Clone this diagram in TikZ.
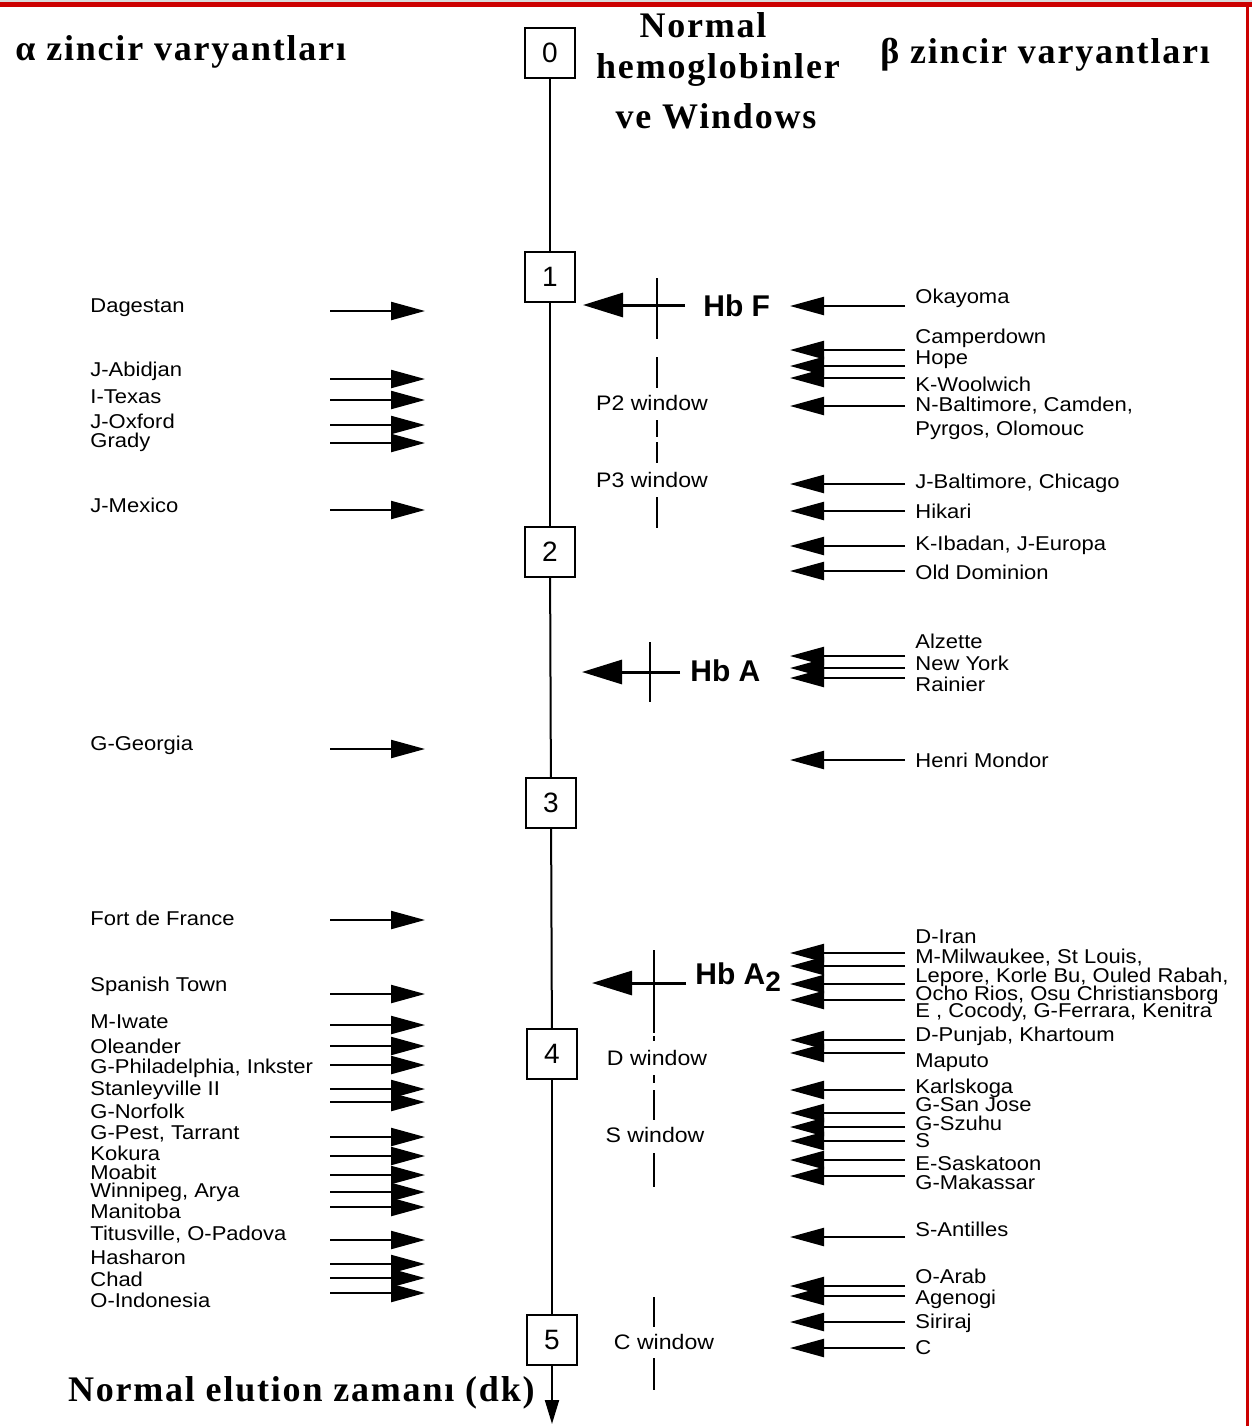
\documentclass[tikz,border=0pt]{standalone}
\usepackage{fontspec}
\setmainfont{Liberation Serif}
\setsansfont{Liberation Sans}
\newfontfamily\lblfont[FakeStretch=1.1]{Liberation Sans}
\newfontfamily\hdrfont[LetterSpace=5]{Liberation Serif}
\usetikzlibrary{arrows.meta}
\tikzset{
  lbl/.style={font=\lblfont\fontsize{10}{10}\selectfont, inner sep=0pt, anchor=west},
  winlbl/.style={font=\lblfont\fontsize{10.5}{10.5}\selectfont, inner sep=0pt},
  hdr/.style={font=\hdrfont\bfseries\fontsize{18}{18}\selectfont, inner sep=0pt},
  hblbl/.style={font=\sffamily\bfseries\fontsize{15}{15}\selectfont, inner sep=0pt, anchor=west},
  numbox/.style={draw, line width=1pt, minimum size=25pt, inner sep=0pt, font=\sffamily\fontsize{14}{14}\selectfont},
  rarrow/.style={line width=1.1pt, -{Triangle[length=17pt,width=9pt]}},
  larrow/.style={line width=1.1pt, -{Triangle[length=17pt,width=9pt]}},
  marker/.style={line width=1.5pt, -{Triangle[length=20pt,width=12pt]}},
  crossbar/.style={line width=1.3pt},
  axisline/.style={line width=1pt},
}
\begin{document}
\begin{tikzpicture}[x=0.5pt,y=-0.5pt]
\useasboundingbox (0,0) rectangle (1252,1426);
% frame
\fill[gray!30] (0,0) rectangle (1252,2);
\fill[red!80!black] (0,2) rectangle (1252,7);
\fill[red!80!black] (1246,2) rectangle (1249,1426);

% headers
\node[hdr, anchor=west] (hA) at (15,52) {α zincir varyantları};
\node[hdr, anchor=west] (hB) at (880,55) {β zincir varyantları};
\node[hdr] (hN1) at (703,25) {Normal};
\node[hdr] (hN2) at (718,70) {hemoglobinler};
\node[hdr] (hN3) at (716,116) {ve Windows};
\node[hdr, anchor=east] (hT) at (535,1393) {Normal elution zamanı (dk)};

% axis boxes
\node[numbox] (b0) at (550,53) {0};
\node[numbox] (b1) at (550,277) {1};
\node[numbox] (b2) at (550,552) {2};
\node[numbox] (b3) at (551,803) {3};
\node[numbox] (b4) at (552,1054) {4};
\node[numbox] (b5) at (552,1340) {5};
\coordinate (axend) at (552,1424);
\draw[axisline] (b0) -- (b1);
\draw[axisline] (b1) -- (b2);
\draw[axisline] (b2) -- (b3);
\draw[axisline] (b3) -- (b4);
\draw[axisline] (b4) -- (b5);
\draw[axisline, -{Triangle[length=12pt,width=7pt]}] (b5) -- (axend);

% Hb F marker
\coordinate (fT) at (685,305); \coordinate (fH) at (583,305);
\draw[marker] (fT) -- (fH);
\coordinate (fv1) at (657,278); \coordinate (fv2) at (657,339);
\draw[crossbar] (fv1) -- (fv2);
\node[hblbl] (hbF) at (703,306) {Hb F};
\foreach \a/\b [count=\i] in {357/388, 420/437, 442/463, 497/528}{
  \coordinate (pw\i a) at (657,\a); \coordinate (pw\i b) at (657,\b);
  \draw[crossbar] (pw\i a) -- (pw\i b);
}
\node[winlbl] (wP2) at (652,403) {P2 window};
\node[winlbl] (wP3) at (652,480) {P3 window};

% Hb A marker
\coordinate (aT) at (680,672); \coordinate (aH) at (582,672);
\draw[marker] (aT) -- (aH);
\coordinate (av1) at (650,642); \coordinate (av2) at (650,702);
\draw[crossbar] (av1) -- (av2);
\node[hblbl] (hbA) at (690,671) {Hb A};

% Hb A2 marker
\coordinate (a2T) at (686,983); \coordinate (a2H) at (592,983);
\draw[marker] (a2T) -- (a2H);
\coordinate (a2v1) at (654,950); \coordinate (a2v2) at (654,1033);
\draw[crossbar] (a2v1) -- (a2v2);
\node[hblbl] (hbA2) at (695,977) {Hb A\raisebox{-0.45ex}{\fontsize{14}{14}\selectfont 2}};
\foreach \a/\b [count=\i] in {1036/1041, 1075/1083, 1090/1120, 1153/1187, 1297/1327, 1358/1390}{
  \coordinate (dw\i a) at (654,\a); \coordinate (dw\i b) at (654,\b);
  \draw[crossbar] (dw\i a) -- (dw\i b);
}
\node[winlbl] (wD) at (657,1058) {D window};
\node[winlbl] (wS) at (655,1135) {S window};
\node[winlbl] (wC) at (664,1342) {C window};

% right (beta) labels
\foreach \ty/\txt in {298/Okayoma, 338/Camperdown, 360/Hope, 384/K-Woolwich,
  406/{N-Baltimore, Camden,}, 430/{Pyrgos, Olomouc}, 483/{J-Baltimore, Chicago},
  511/Hikari, 545/{K-Ibadan, J-Europa}, 572/Old Dominion,
  641/Alzette, 663/New York, 684/Rainier, 760/Henri Mondor,
  937/D-Iran, 958/{M-Milwaukee, St Louis,}, 977/{Lepore, Korle Bu, Ouled Rabah,},
  995/{Ocho Rios, Osu Christiansborg}, 1012/{E , Cocody, G-Ferrara, Kenitra},
  1036/{D-Punjab, Khartoum}, 1063/Maputo, 1088/Karlskoga, 1105/G-San Jose,
  1123/G-Szuhu, 1141/S, 1163/E-Saskatoon, 1182/G-Makassar,
  1229/S-Antilles, 1276/O-Arab, 1299/Agenogi, 1323/Siriraj, 1348/C}{
  \node[lbl] (rl\ty) at (915,\ty) {\txt};
}
\foreach \y in {306, 350, 366, 378, 406, 484, 511, 546, 571, 656, 668, 678, 760,
  953, 966, 984, 1000, 1040, 1053, 1090, 1113, 1127, 1141, 1160, 1176,
  1237, 1286, 1296, 1322, 1348}{
  \coordinate (rt\y) at (905,\y); \coordinate (rh\y) at (790,\y);
  \draw[rarrow] (rt\y) -- (rh\y);
}

% left (alpha) labels
\foreach \ty/\txt in {308/Dagestan, 371/J-Abidjan, 397/I-Texas, 421/J-Oxford,
  442/Grady, 505/J-Mexico, 745/G-Georgia, 918/Fort de France, 986/Spanish Town,
  1022/M-Iwate, 1046/Oleander, 1068/{G-Philadelphia, Inkster}, 1090/Stanleyville II,
  1111/G-Norfolk, 1134/{G-Pest, Tarrant}, 1153/Kokura, 1172/Moabit,
  1192/{Winnipeg, Arya}, 1211/Manitoba, 1235/{Titusville, O-Padova},
  1257/Hasharon, 1279/Chad, 1300/O-Indonesia}{
  \node[lbl] (ll\ty) at (90,\ty) {\txt};
}
\foreach \y in {311, 379, 400, 425, 443, 510, 749, 920, 994, 1025, 1046, 1065,
  1089, 1102, 1137, 1156, 1175, 1192, 1207, 1240, 1264, 1278, 1293}{
  \coordinate (lt\y) at (330,\y); \coordinate (lh\y) at (425,\y);
  \draw[larrow] (lt\y) -- (lh\y);
}
\end{tikzpicture}
\end{document}
